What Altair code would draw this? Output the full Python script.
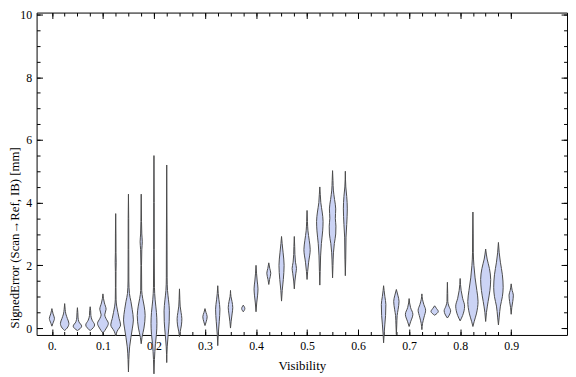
import altair as alt
import pandas as pd

# ---- data (y in mm, half-widths in px-equivalent density units) ----
violin_centers = [0.0, 0.025, 0.05, 0.075, 0.1, 0.125, 0.15, 0.175, 0.2, 0.225, 0.25,
                  0.3, 0.325, 0.35, 0.375, 0.4, 0.425, 0.45, 0.475, 0.5, 0.525, 0.55, 0.575,
                  0.65, 0.675, 0.7, 0.725, 0.75, 0.775, 0.8, 0.825, 0.85, 0.875, 0.9]

violin_y = [
    [0.06, 0.15, 0.31, 0.45, 0.55, 0.62],
    [-0.08, 0.0, 0.15, 0.3, 0.45, 0.6, 0.78],
    [-0.08, 0.06, 0.2, 0.35, 0.5, 0.65],
    [-0.08, 0.1, 0.25, 0.4, 0.55, 0.68],
    [-0.16, 0.0, 0.15, 0.3, 0.42, 0.6, 0.8, 0.95, 1.09],
    [-0.25, -0.1, 0.1, 0.3, 0.5, 0.7, 0.9, 1.3, 1.8, 2.1, 2.4, 3.0, 3.65],
    [-1.4, -1.0, -0.6, -0.3, 0.0, 0.26, 0.6, 0.85, 1.1, 1.5, 2.5, 3.5, 4.27],
    [-0.5, -0.3, 0.0, 0.4, 0.7, 0.95, 1.2, 2.0, 2.5, 2.75, 3.0, 3.4, 4.27],
    [-1.46, -1.0, -0.5, -0.2, 0.15, 0.5, 0.9, 1.3, 2.5, 4.0, 5.5],
    [-1.1, -0.6, -0.2, 0.2, 0.55, 0.9, 1.2, 1.6, 3.0, 5.2],
    [-0.27, -0.1, 0.1, 0.3, 0.5, 0.7, 0.9, 1.25],
    [0.08, 0.2, 0.36, 0.5, 0.62],
    [-0.56, -0.2, 0.2, 0.6, 0.9, 1.1, 1.35],
    [0.0, 0.2, 0.45, 0.65, 0.85, 1.0, 1.2],
    [0.52, 0.62, 0.73],
    [0.52, 0.8, 1.05, 1.25, 1.5, 1.75, 2.0],
    [1.39, 1.55, 1.75, 1.9, 2.08],
    [0.86, 1.2, 1.55, 2.0, 2.4, 2.7, 2.92],
    [1.25, 1.5, 1.75, 1.9, 2.1, 2.35, 2.6, 2.92],
    [1.55, 1.8, 2.1, 2.5, 2.8, 3.1, 3.4, 3.75],
    [1.37, 1.8, 2.3, 2.7, 3.1, 3.4, 3.7, 4.0, 4.25, 4.5],
    [1.6, 2.0, 2.4, 2.7, 3.0, 3.25, 3.5, 3.8, 4.1, 4.4, 4.7, 5.02],
    [1.67, 2.2, 2.9, 3.3, 3.8, 4.2, 4.5, 5.0],
    [-0.47, -0.2, 0.1, 0.4, 0.75, 1.0, 1.2, 1.35],
    [-0.21, 0.1, 0.4, 0.6, 0.85, 1.05, 1.23],
    [0.05, 0.2, 0.44, 0.65, 0.8, 0.94],
    [-0.05, 0.15, 0.35, 0.57, 0.75, 0.92, 1.09],
    [0.41, 0.47, 0.53, 0.62, 0.71],
    [0.32, 0.45, 0.55, 0.7, 0.85, 1.1, 1.46],
    [0.23, 0.4, 0.7, 0.95, 1.2, 1.58],
    [0.05, 0.2, 0.45, 0.85, 1.2, 1.6, 2.0, 2.4, 3.0, 3.7],
    [0.21, 0.5, 0.85, 1.2, 1.55, 1.9, 2.2, 2.52],
    [0.1, 0.35, 0.7, 1.0, 1.3, 1.7, 2.1, 2.4, 2.73],
    [0.44, 0.65, 0.85, 1.05, 1.2, 1.41],
]

violin_density = [
    [0, 1.0, 2.6, 1.2, 0.5, 0],
    [0, 2.5, 4.3, 2.8, 1.2, 0.5, 0],
    [0, 4.3, 1.5, 0.6, 0.4, 0],
    [0, 4.5, 2.0, 0.7, 0.5, 0],
    [0, 3.5, 5.5, 3.2, 1.8, 3.2, 1.5, 0.5, 0],
    [0, 1.5, 5.0, 3.5, 2.2, 1.0, 0.4, 0.25, 0.3, 0.5, 0.3, 0.25, 0],
    [0, 0.4, 1.2, 2.5, 4.0, 5.0, 3.8, 2.5, 1.0, 0.4, 0.3, 0.25, 0],
    [0, 0.8, 2.8, 4.0, 3.0, 1.5, 0.5, 0.3, 0.6, 1.1, 0.6, 0.3, 0],
    [0, 0.5, 1.5, 2.5, 3.0, 2.5, 1.2, 0.5, 0.3, 0.25, 0],
    [0, 0.5, 1.5, 2.5, 2.7, 1.8, 0.8, 0.4, 0.3, 0],
    [0, 0.8, 2.0, 2.4, 1.6, 0.7, 0.4, 0],
    [0, 1.2, 2.2, 1.0, 0],
    [0, 0.5, 1.5, 2.2, 1.2, 0.5, 0],
    [0, 0.6, 1.6, 2.3, 1.5, 0.5, 0],
    [0, 1.6, 0],
    [0, 0.7, 1.6, 2.0, 1.2, 0.5, 0],
    [0, 0.8, 2.0, 1.0, 0],
    [0, 0.7, 1.8, 2.6, 1.6, 0.6, 0],
    [0, 0.6, 1.6, 2.2, 1.2, 0.6, 0.4, 0],
    [0, 0.6, 1.6, 3.2, 2.2, 0.9, 0.4, 0],
    [0, 0.4, 0.8, 1.6, 2.9, 3.3, 2.4, 1.0, 0.5, 0],
    [0, 0.4, 0.9, 1.8, 3.2, 3.4, 2.8, 3.2, 2.0, 0.8, 0.4, 0],
    [0, 0.4, 0.7, 1.4, 2.0, 1.4, 0.5, 0],
    [0, 0.5, 1.2, 2.0, 2.3, 1.3, 0.5, 0],
    [0, 0.4, 0.8, 1.8, 2.7, 1.5, 0],
    [0, 1.5, 3.8, 1.5, 0.5, 0],
    [0, 0.7, 2.2, 3.8, 2.0, 0.6, 0],
    [0, 2.5, 3.7, 2.0, 0],
    [0, 2.5, 3.3, 1.5, 0.4, 0.3, 0],
    [0, 2.5, 4.5, 2.5, 1.0, 0],
    [0, 1.2, 3.5, 5.2, 4.0, 2.2, 1.0, 0.4, 0.3, 0],
    [0, 0.8, 2.5, 4.3, 5.1, 3.8, 1.5, 0],
    [0, 0.8, 2.0, 4.0, 4.8, 4.0, 2.0, 0.8, 0],
    [0, 0.6, 1.6, 2.2, 1.0, 0],
]

x_major_ticks = [0.0, 0.1, 0.2, 0.3, 0.4, 0.5, 0.6, 0.7, 0.8, 0.9]
x_tick_labels = ["0.", "0.1", "0.2", "0.3", "0.4", "0.5", "0.6", "0.7", "0.8", "0.9"]
x_minor_ticks = [round(0.025 * i, 3) for i in range(0, 37)]
y_major_ticks = [0, 2, 4, 6, 8, 10]
y_tick_labels = ["0", "2", "4", "6", "8", "10"]
y_minor_ticks = [0.5 * i for i in range(0, 21)]

DENSITY_TO_X = 1 / 517.6  # violin half-width scaling into the visibility axis

rows = []
for i, (c, ys_, ws_) in enumerate(zip(violin_centers, violin_y, violin_density)):
    for yv, w in zip(ys_, ws_):
        rows.append({"id": i, "y": yv,
                     "xl": c - w * DENSITY_TO_X, "xr": c + w * DENSITY_TO_X})
df = pd.DataFrame(rows)

FONT = "Liberation Serif, Times New Roman, Times, serif"
xs = alt.Scale(domain=[-0.030, 1.0094], nice=False, zero=False)
ys = alt.Scale(domain=[-0.22, 10.06], nice=False, zero=False)

xlab_expr = "[" + ",".join("'%s'" % s for s in x_tick_labels) + "][round(datum.value*10)]"
ylab_expr = "[" + ",".join("'%s'" % s for s in y_tick_labels) + "][round(datum.value/2)]"

violins = alt.Chart(df).mark_area(
    orient="horizontal", interpolate="monotone",
    fill="#cbd3f5", stroke="#4a4a4a", strokeWidth=1, fillOpacity=1
).encode(
    y=alt.Y("y:Q", scale=ys, axis=alt.Axis(
        orient="left", values=y_major_ticks, labelExpr=ylab_expr, ticks=False, tickSize=0,
        domain=False, grid=False, labelPadding=5, labelFont=FONT, labelFontSize=12,
        labelColor="#000", title="SignedError (Scan\u2192Ref, IB) [mm]", titleFont=FONT,
        titleFontSize=13, titleFontWeight="normal", titleColor="#000",
        titleBaseline="middle", titleX=-22, titleY=228)),
    x=alt.X("xl:Q", scale=xs, axis=alt.Axis(
        orient="bottom", values=x_major_ticks, labelExpr=xlab_expr, ticks=False, tickSize=0,
        domain=False, grid=False, labelPadding=6, labelFont=FONT, labelFontSize=12,
        labelColor="#000", labelFlush=False, labelOverlap=False, title="Visibility",
        titleFont=FONT, titleFontSize=13, titleFontWeight="normal", titleColor="#000",
        titleBaseline="middle", titleY=31)),
    x2="xr:Q",
    detail="id:N",
)


def tick_layer(xvals, xsize, xorient, yvals, ysize, yorient):
    return alt.Chart(df).mark_point(opacity=0).encode(
        x=alt.X("xl:Q", scale=xs, axis=alt.Axis(
            orient=xorient, values=xvals, tickSize=xsize, offset=-xsize, labels=False,
            domain=False, grid=False, ticks=True, tickColor="#000", tickWidth=1, title="")),
        y=alt.Y("y:Q", scale=ys, axis=alt.Axis(
            orient=yorient, values=yvals, tickSize=ysize, offset=-ysize, labels=False,
            domain=False, grid=False, ticks=True, tickColor="#000", tickWidth=1, title="")),
    )


chart = alt.layer(
    violins,
    tick_layer(x_major_ticks, 6, "bottom", y_major_ticks, 6, "left"),
    tick_layer(x_minor_ticks, 3.5, "bottom", y_minor_ticks, 3.5, "left"),
    tick_layer(x_major_ticks, 6, "top", y_major_ticks, 6, "right"),
    tick_layer(x_minor_ticks, 3.5, "top", y_minor_ticks, 3.5, "right"),
).resolve_axis(x="independent", y="independent").properties(
    width=538, height=327,
    autosize=alt.AutoSizeParams(type="none"),
    padding={"left": 29, "top": 2, "right": 1, "bottom": 40},
    background="white",
).configure_view(stroke="#000", strokeWidth=1)

chart.save("out.html", embed_options={"renderer": "svg", "actions": False})
